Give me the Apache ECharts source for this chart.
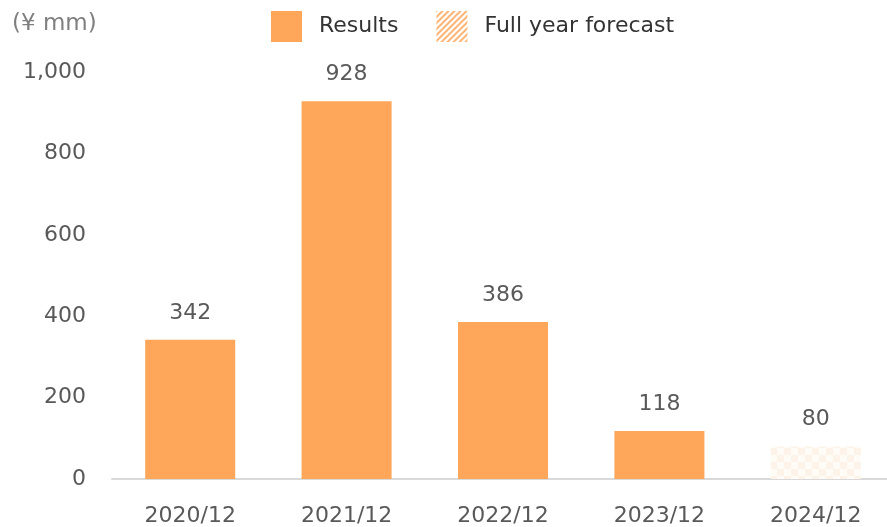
<!DOCTYPE html>
<html>
<head>
<meta charset="utf-8">
<script src="https://cdn.jsdelivr.net/npm/echarts@6/dist/echarts.min.js"></script>
<style>
html, body { margin: 0; padding: 0; background: #fff; }
#main { width: 887px; height: 527px; }
</style>
</head>
<body>
<div id="main"></div>
<script>
var categories = ['2020/12', '2021/12', '2022/12', '2023/12', '2024/12'];
var results = [342, 928, 386, 118, '-'];
var forecast = ['-', '-', '-', '-', 80];
var yTicks = [0, 200, 400, 600, 800, 1000];

var barColor = '#fea65a';
var fontFam = '"DejaVu Sans", sans-serif';

// striped swatch for the legend icon
function stripes() {
    var c = document.createElement('canvas');
    c.width = 6; c.height = 6;
    var ctx = c.getContext('2d');
    ctx.fillStyle = '#fff';
    ctx.fillRect(0, 0, 6, 6);
    ctx.strokeStyle = barColor;
    ctx.lineWidth = 1.6;
    ctx.beginPath();
    ctx.moveTo(0, 6); ctx.lineTo(6, 0);
    ctx.moveTo(-3, 3); ctx.lineTo(3, -3);
    ctx.moveTo(3, 9); ctx.lineTo(9, 3);
    ctx.stroke();
    return c;
}
// very faint checker for the forecast bar
function checker() {
    var c = document.createElement('canvas');
    c.width = 14; c.height = 14;
    var ctx = c.getContext('2d');
    ctx.fillStyle = '#fffcf8';
    ctx.fillRect(0, 0, 14, 14);
    ctx.fillStyle = '#fdf3e8';
    ctx.fillRect(0, 0, 7, 7);
    ctx.fillRect(7, 7, 7, 7);
    return c;
}

var chart = echarts.init(document.getElementById('main'));
var option = {
    animation: false,
    textStyle: { fontFamily: fontFam },
    title: {
        text: '(¥ mm)',
        left: 7, top: 8,
        textStyle: { fontFamily: fontFam, fontSize: 23, fontWeight: 'normal', color: '#7f7f7f' }
    },
    legend: {
        top: 6, left: 266,
        itemWidth: 31, itemHeight: 31, itemGap: 38,
        textStyle: { fontFamily: fontFam, fontSize: 22, color: '#333', padding: [0, 0, 0, 12] },
        data: [
            { name: 'Results', icon: 'rect' },
            { name: 'Full year forecast', icon: 'rect', itemStyle: { color: { image: stripes(), repeat: 'repeat' } } }
        ]
    },
    grid: { left: 112, width: 782, top: 72, bottom: 48, outerBoundsMode: 'none' },
    xAxis: {
        type: 'category',
        data: categories,
        axisLine: { lineStyle: { color: '#d9d9d9', width: 2 } },
        axisTick: { show: false },
        axisLabel: { fontSize: 22, color: '#595959', margin: 26, fontFamily: fontFam }
    },
    yAxis: {
        type: 'value',
        min: yTicks[0], max: yTicks[yTicks.length - 1], interval: 200,
        splitLine: { show: false },
        axisLine: { show: false },
        axisTick: { show: false },
        axisLabel: {
            fontSize: 22, color: '#595959', margin: 26, fontFamily: fontFam,
            formatter: function (v) { return v.toLocaleString('en-US'); }
        }
    },
    series: [
        {
            name: 'Results',
            type: 'bar',
            barWidth: 90,
            barGap: '-100%',
            itemStyle: { color: barColor },
            label: { show: true, position: 'top', distance: 16, fontSize: 22, color: '#595959', fontFamily: fontFam },
            data: results
        },
        {
            name: 'Full year forecast',
            type: 'bar',
            barWidth: 90,
            itemStyle: { color: { image: checker(), repeat: 'repeat' } },
            label: { show: true, position: 'top', distance: 16, fontSize: 22, color: '#595959', fontFamily: fontFam },
            data: forecast
        }
    ]
};
chart.setOption(option);
</script>
</body>
</html>
